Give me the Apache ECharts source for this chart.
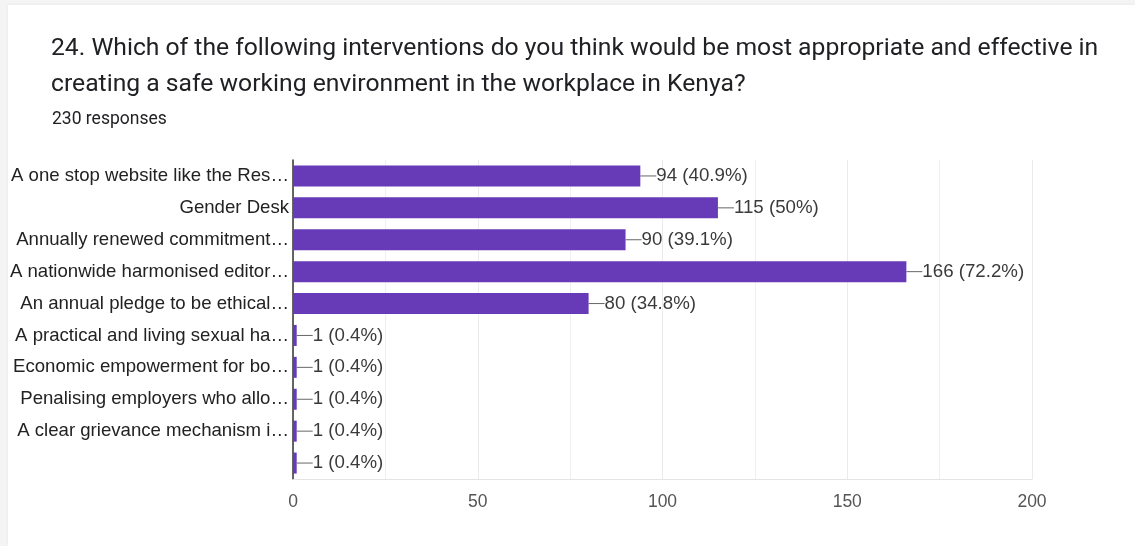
<!DOCTYPE html>
<html>
<head>
<meta charset="utf-8">
<script src="https://cdn.jsdelivr.net/npm/echarts@6/dist/echarts.min.js"></script>
<style>
  html, body { margin: 0; padding: 0; background: #f4f4f4; }
  #card { position: absolute; left: 8px; top: 5px; width: 1127px; height: 541px; background: #fff; box-shadow: 0 0 3px rgba(0,0,0,0.06); }
  #chart { position: absolute; left: 0; top: 0; width: 1135px; height: 546px; }
</style>
</head>
<body>
<div id="card"></div>
<div id="chart"></div>
<script>
const questionLines = [
  '24. Which of the following interventions do you think would be most appropriate and effective in',
  'creating a safe working environment in the workplace in Kenya?'
];
const responsesText = '230 responses';

const categories = [
  'A one stop website like the Res\u2026',
  'Gender Desk',
  'Annually renewed commitment\u2026',
  'A nationwide harmonised editor\u2026',
  'An annual pledge to be ethical\u2026',
  'A practical and living sexual ha\u2026',
  'Economic empowerment for bo\u2026',
  'Penalising employers who allo\u2026',
  'A clear grievance mechanism i\u2026',
  ''
];
const counts = [94, 115, 90, 166, 80, 1, 1, 1, 1, 1];
const percentLabels = ['40.9%', '50%', '39.1%', '72.2%', '34.8%', '0.4%', '0.4%', '0.4%', '0.4%', '0.4%'];
const xTicks = [0, 50, 100, 150, 200];

const labelFont = 'Liberation Sans';
const chart = echarts.init(document.getElementById('chart'), null, { renderer: 'canvas' });

chart.setOption({
  backgroundColor: 'transparent',
  animation: false,
  title: [
    {
      text: questionLines.join('\n'),
      left: 46, top: 26,
      textStyle: { fontFamily: 'Roboto', fontSize: 24.7, fontWeight: 'normal', color: '#202124', lineHeight: 36 }
    },
    {
      text: responsesText,
      left: 47, top: 106,
      textStyle: { fontFamily: 'Roboto', fontSize: 17.5, fontWeight: 'normal', color: '#202124' }
    }
  ],
  grid: { left: 293, right: 103, top: 160, bottom: 67 },
  xAxis: {
    type: 'value',
    min: xTicks[0],
    max: xTicks[xTicks.length - 1],
    interval: 50,
    axisLine: { show: true, lineStyle: { color: '#e4e4e4', width: 1 } },
    axisTick: { show: false },
    axisLabel: { color: '#555', fontFamily: labelFont, fontSize: 17.5, margin: 14 },
    splitLine: { show: true, lineStyle: { color: '#ebebeb', width: 1 } },
    minorTick: { show: false, splitNumber: 2 },
    minorSplitLine: { show: true, lineStyle: { color: '#efefef', width: 1 } }
  },
  yAxis: {
    type: 'category',
    data: categories,
    inverse: true,
    axisLine: { show: true, lineStyle: { color: '#333', width: 1.5 } },
    axisTick: { show: false },
    axisLabel: { color: '#222', fontFamily: labelFont, fontSize: 18.6, margin: 4 }
  },
  series: [{
    type: 'bar',
    data: counts,
    barWidth: 21,
    itemStyle: { color: '#673ab7' },
    label: {
      show: true,
      position: 'right',
      distance: 0,
      formatter: p => '{l|}' + '{t|' + p.value + ' (' + percentLabels[p.dataIndex] + ')}',
      rich: {
        l: { width: 16, height: 1, backgroundColor: '#666' },
        t: { fontFamily: labelFont, fontSize: 18.7, color: '#3a3a3a' }
      }
    }
  }]
});
</script>
</body>
</html>
